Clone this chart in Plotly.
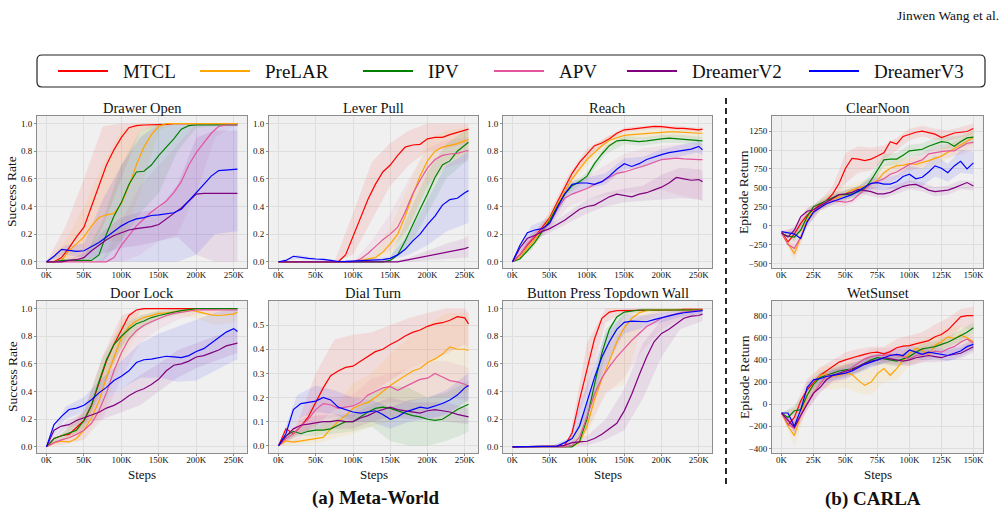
import plotly.graph_objects as go

# ---------------- data ----------------
SERIES = ["MTCL", "PreLAR", "IPV", "APV", "DreamerV2", "DreamerV3"]
COLORS = ["#ff0000", "#ffa500", "#008000", "#e3559d", "#800080", "#0000ff"]
BAND_RGB = ["255,0,0", "255,165,0", "0,128,0", "227,85,157", "128,0,128", "0,0,255"]

MW_STEPS = [0, 10, 20, 30, 40, 50, 60, 70, 80, 90, 100, 110, 120, 130, 140, 150,
            160, 170, 180, 190, 200, 210, 220, 230, 240, 250, 255]
MW_BAND_STEPS = [0, 25, 50, 75, 100, 125, 150, 175, 200, 225, 250, 255]
CARLA_STEPS = [0, 5, 10, 15, 20, 25, 30, 35, 40, 45, 50, 55, 60, 65, 70, 75, 80,
               85, 90, 95, 100, 105, 110, 115, 120, 125, 130, 135, 140, 145, 150]
CARLA_BAND_STEPS = [0, 10, 20, 30, 40, 50, 60, 70, 80, 90, 100, 110, 120, 130, 140, 150]

MW_XTICKS = [0, 50, 100, 150, 200, 250]
CARLA_XTICKS = [0, 25, 50, 75, 100, 125, 150]

DRAWER_OPEN = {
    "MTCL": [0, 0, 0.03, 0.10, 0.18, 0.25, 0.40, 0.55, 0.70, 0.81, 0.90, 0.97, 0.985, 0.99, 0.99, 0.995, 0.995, 1, 1, 1, 1, 1, 1, 1, 1, 1, 1],
    "PreLAR": [0, 0, 0.01, 0.08, 0.13, 0.18, 0.26, 0.32, 0.34, 0.35, 0.42, 0.55, 0.70, 0.83, 0.92, 0.98, 1, 1, 1, 1, 1, 1, 1, 1, 1, 1, 1],
    "IPV": [0, 0, 0.01, 0.01, 0.01, 0.01, 0.01, 0.05, 0.20, 0.33, 0.43, 0.56, 0.65, 0.655, 0.70, 0.77, 0.83, 0.89, 0.96, 0.985, 0.99, 0.99, 0.99, 0.99, 0.99, 0.99, 0.99],
    "APV": [0, 0, 0, 0, 0, 0, 0, 0, 0, 0.03, 0.12, 0.19, 0.26, 0.31, 0.36, 0.40, 0.44, 0.50, 0.58, 0.70, 0.79, 0.86, 0.93, 0.98, 0.99, 0.99, 0.99],
    "DreamerV2": [0, 0, 0, 0.01, 0.015, 0.03, 0.08, 0.12, 0.16, 0.19, 0.21, 0.23, 0.24, 0.245, 0.255, 0.27, 0.31, 0.35, 0.39, 0.44, 0.49, 0.495, 0.495, 0.495, 0.495, 0.495, 0.495],
    "DreamerV3": [0, 0.04, 0.09, 0.08, 0.075, 0.08, 0.11, 0.14, 0.18, 0.22, 0.26, 0.29, 0.31, 0.32, 0.335, 0.34, 0.345, 0.355, 0.38, 0.44, 0.50, 0.56, 0.62, 0.66, 0.665, 0.67, 0.67],
}
DRAWER_OPEN_LO = {
    "MTCL": [0, 0, 0.02, 0.25, 0.6, 0.95, 0.99, 1, 1, 1, 1, 1],
    "PreLAR": [0, 0, 0.05, 0.15, 0.15, 0.5, 0.95, 1, 1, 1, 1, 1],
    "IPV": [0, 0, 0, 0, 0.15, 0.35, 0.5, 0.8, 0.97, 0.98, 0.98, 0.98],
    "APV": [0, 0, 0, 0, 0, 0.05, 0.15, 0.2, 0.5, 0.9, 0.98, 0.98],
    "DreamerV2": [0, 0, 0, 0.06, 0.1, 0.12, 0.15, 0.18, 0.05, 0, 0, 0],
    "DreamerV3": [0, 0.05, 0.03, 0, 0, 0, 0, 0, 0.05, 0.2, 0.22, 0.22],
}
DRAWER_OPEN_HI = {
    "MTCL": [0, 0.25, 0.6, 0.98, 1, 1, 1, 1, 1, 1, 1, 1],
    "PreLAR": [0, 0.15, 0.4, 0.7, 0.95, 1, 1, 1, 1, 1, 1, 1],
    "IPV": [0, 0.02, 0.03, 0.3, 0.7, 0.95, 1, 1, 1, 1, 1, 1],
    "APV": [0, 0, 0, 0.02, 0.3, 0.55, 0.7, 0.85, 1, 1, 1, 1],
    "DreamerV2": [0, 0.01, 0.06, 0.22, 0.32, 0.36, 0.38, 0.56, 0.9, 0.95, 0.95, 0.95],
    "DreamerV3": [0, 0.12, 0.13, 0.45, 0.7, 0.9, 1, 1, 1, 1, 1, 1],
}

LEVER_PULL = {
    "MTCL": [0, 0, 0, 0, 0, 0, 0, 0, 0, 0.05, 0.18, 0.32, 0.45, 0.56, 0.65, 0.70, 0.77, 0.83, 0.845, 0.85, 0.89, 0.90, 0.90, 0.92, 0.935, 0.95, 0.96],
    "PreLAR": [0, 0, 0, 0, 0, 0, 0, 0, 0, 0, 0, 0.01, 0.02, 0.03, 0.07, 0.13, 0.20, 0.33, 0.48, 0.62, 0.73, 0.80, 0.83, 0.84, 0.855, 0.875, 0.885],
    "IPV": [0, 0, 0, 0, 0, 0, 0, 0, 0, 0, 0, 0, 0, 0, 0, 0.01, 0.05, 0.15, 0.27, 0.38, 0.49, 0.61, 0.70, 0.73, 0.80, 0.84, 0.865],
    "APV": [0, 0, 0, 0, 0, 0, 0, 0, 0, 0, 0, 0.02, 0.06, 0.11, 0.16, 0.20, 0.25, 0.36, 0.49, 0.59, 0.68, 0.74, 0.77, 0.78, 0.785, 0.80, 0.805],
    "DreamerV2": [0, 0, 0, 0, 0, 0, 0, 0, 0, 0, 0, 0, 0, 0, 0, 0, 0, 0.01, 0.02, 0.03, 0.04, 0.05, 0.06, 0.075, 0.085, 0.095, 0.105],
    "DreamerV3": [0, 0.01, 0.04, 0.03, 0.025, 0.02, 0.018, 0.01, 0.002, 0.003, 0.005, 0.008, 0.01, 0.012, 0.015, 0.025, 0.05, 0.09, 0.15, 0.20, 0.27, 0.33, 0.41, 0.45, 0.46, 0.50, 0.515],
}
LEVER_PULL_LO = {
    "MTCL": [0, 0, 0, 0, 0.05, 0.3, 0.55, 0.7, 0.8, 0.82, 0.85, 0.86],
    "PreLAR": [0, 0, 0, 0, 0, 0, 0.05, 0.25, 0.55, 0.72, 0.78, 0.8],
    "IPV": [0, 0, 0, 0, 0, 0, 0, 0.1, 0.35, 0.6, 0.72, 0.75],
    "APV": [0, 0, 0, 0, 0, 0.03, 0.08, 0.25, 0.55, 0.68, 0.72, 0.73],
    "DreamerV2": [0, 0, 0, 0, 0, 0, 0, 0, 0.01, 0.02, 0.03, 0.03],
    "DreamerV3": [0, 0.02, 0.01, 0, 0, 0, 0.01, 0.05, 0.12, 0.22, 0.27, 0.28],
}
LEVER_PULL_HI = {
    "MTCL": [0, 0, 0, 0, 0.35, 0.72, 0.86, 0.95, 1, 1, 1, 1],
    "PreLAR": [0, 0, 0, 0, 0, 0.05, 0.25, 0.55, 0.88, 0.95, 0.97, 0.98],
    "IPV": [0, 0, 0, 0, 0, 0, 0.03, 0.35, 0.65, 0.85, 0.95, 0.97],
    "APV": [0, 0, 0, 0, 0, 0.15, 0.35, 0.6, 0.82, 0.88, 0.9, 0.9],
    "DreamerV2": [0, 0, 0, 0, 0, 0, 0, 0.03, 0.08, 0.13, 0.17, 0.19],
    "DreamerV3": [0, 0.05, 0.03, 0.015, 0.01, 0.02, 0.04, 0.2, 0.45, 0.7, 0.78, 0.8],
}

REACH = {
    "MTCL": [0, 0.05, 0.12, 0.18, 0.25, 0.32, 0.43, 0.54, 0.64, 0.72, 0.78, 0.84, 0.86, 0.89, 0.93, 0.955, 0.96, 0.965, 0.975, 0.98, 0.978, 0.97, 0.965, 0.965, 0.96, 0.955, 0.96],
    "PreLAR": [0, 0.03, 0.10, 0.16, 0.23, 0.31, 0.41, 0.51, 0.60, 0.67, 0.74, 0.79, 0.84, 0.88, 0.90, 0.915, 0.92, 0.925, 0.93, 0.935, 0.94, 0.94, 0.94, 0.935, 0.935, 0.93, 0.93],
    "IPV": [0, 0.02, 0.08, 0.14, 0.22, 0.30, 0.40, 0.49, 0.55, 0.58, 0.62, 0.71, 0.78, 0.84, 0.875, 0.88, 0.875, 0.87, 0.875, 0.885, 0.89, 0.895, 0.89, 0.885, 0.88, 0.875, 0.875],
    "APV": [0, 0.05, 0.13, 0.19, 0.23, 0.28, 0.38, 0.46, 0.49, 0.51, 0.53, 0.56, 0.58, 0.61, 0.64, 0.65, 0.665, 0.68, 0.70, 0.72, 0.74, 0.745, 0.75, 0.745, 0.74, 0.74, 0.74],
    "DreamerV2": [0, 0.10, 0.17, 0.19, 0.22, 0.24, 0.27, 0.30, 0.34, 0.38, 0.40, 0.41, 0.44, 0.47, 0.49, 0.48, 0.47, 0.49, 0.50, 0.52, 0.54, 0.57, 0.61, 0.60, 0.59, 0.595, 0.58],
    "DreamerV3": [0, 0.12, 0.21, 0.23, 0.24, 0.28, 0.39, 0.49, 0.56, 0.57, 0.57, 0.56, 0.58, 0.62, 0.67, 0.71, 0.69, 0.71, 0.74, 0.76, 0.775, 0.79, 0.80, 0.81, 0.815, 0.835, 0.81],
}
REACH_LO = {
    "MTCL": [0, 0.12, 0.28, 0.55, 0.75, 0.85, 0.94, 0.955, 0.965, 0.95, 0.94, 0.945],
    "PreLAR": [0, 0.09, 0.27, 0.51, 0.7, 0.82, 0.88, 0.89, 0.9, 0.9, 0.89, 0.89],
    "IPV": [0, 0.08, 0.27, 0.49, 0.59, 0.78, 0.85, 0.84, 0.86, 0.86, 0.845, 0.845],
    "APV": [0, 0.12, 0.23, 0.4, 0.45, 0.48, 0.5, 0.5, 0.52, 0.48, 0.45, 0.44],
    "DreamerV2": [0, 0.15, 0.21, 0.28, 0.35, 0.4, 0.43, 0.44, 0.45, 0.46, 0.45, 0.44],
    "DreamerV3": [0, 0.18, 0.24, 0.48, 0.53, 0.56, 0.67, 0.68, 0.735, 0.765, 0.79, 0.77],
}
REACH_HI = {
    "MTCL": [0, 0.18, 0.36, 0.63, 0.82, 0.9, 0.97, 0.985, 0.99, 0.98, 0.97, 0.975],
    "PreLAR": [0, 0.17, 0.35, 0.59, 0.78, 0.9, 0.95, 0.96, 0.975, 0.97, 0.965, 0.965],
    "IPV": [0, 0.14, 0.33, 0.55, 0.65, 0.84, 0.91, 0.9, 0.92, 0.92, 0.905, 0.905],
    "APV": [0, 0.2, 0.33, 0.54, 0.62, 0.7, 0.78, 0.82, 0.84, 0.85, 0.85, 0.85],
    "DreamerV2": [0, 0.21, 0.27, 0.36, 0.45, 0.5, 0.53, 0.55, 0.63, 0.68, 0.67, 0.66],
    "DreamerV3": [0, 0.26, 0.32, 0.58, 0.61, 0.64, 0.75, 0.76, 0.815, 0.845, 0.875, 0.85],
}

DOOR_LOCK = {
    "MTCL": [0, 0.06, 0.08, 0.09, 0.14, 0.19, 0.30, 0.46, 0.62, 0.74, 0.84, 0.95, 0.99, 1, 1, 1, 1, 1, 1, 1, 1, 1, 1, 1, 1, 1, 1],
    "PreLAR": [0, 0.03, 0.04, 0.035, 0.06, 0.12, 0.21, 0.33, 0.50, 0.65, 0.79, 0.87, 0.91, 0.935, 0.95, 0.965, 0.97, 0.975, 0.98, 0.99, 0.98, 0.965, 0.955, 0.95, 0.955, 0.96, 0.975],
    "IPV": [0, 0.06, 0.08, 0.10, 0.12, 0.19, 0.30, 0.47, 0.63, 0.74, 0.80, 0.85, 0.89, 0.91, 0.935, 0.95, 0.965, 0.975, 0.985, 0.995, 1, 1, 1, 1, 1, 1, 1],
    "APV": [0, 0.03, 0.05, 0.065, 0.09, 0.12, 0.17, 0.26, 0.39, 0.55, 0.68, 0.78, 0.84, 0.88, 0.905, 0.93, 0.95, 0.965, 0.975, 0.985, 0.99, 0.992, 0.993, 0.99, 0.99, 0.99, 0.99],
    "DreamerV2": [0, 0.12, 0.15, 0.16, 0.19, 0.21, 0.23, 0.25, 0.28, 0.30, 0.33, 0.37, 0.40, 0.42, 0.45, 0.49, 0.55, 0.59, 0.60, 0.62, 0.65, 0.66, 0.68, 0.70, 0.73, 0.745, 0.75],
    "DreamerV3": [0, 0.16, 0.22, 0.27, 0.28, 0.30, 0.34, 0.39, 0.43, 0.48, 0.51, 0.55, 0.61, 0.63, 0.635, 0.645, 0.655, 0.65, 0.645, 0.66, 0.69, 0.71, 0.75, 0.79, 0.83, 0.855, 0.835],
}
DOOR_LOCK_LO = {
    "MTCL": [0, 0.05, 0.12, 0.42, 0.72, 0.98, 1, 1, 1, 1, 1, 1],
    "PreLAR": [0, 0.02, 0.05, 0.25, 0.62, 0.85, 0.93, 0.95, 0.93, 0.88, 0.9, 0.92],
    "IPV": [0, 0.06, 0.13, 0.45, 0.72, 0.85, 0.92, 0.96, 0.99, 1, 1, 1],
    "APV": [0, 0.02, 0.05, 0.2, 0.5, 0.75, 0.85, 0.92, 0.96, 0.96, 0.96, 0.96],
    "DreamerV2": [0, 0.13, 0.17, 0.2, 0.25, 0.3, 0.4, 0.5, 0.57, 0.62, 0.67, 0.68],
    "DreamerV3": [0, 0.2, 0.25, 0.33, 0.42, 0.5, 0.5, 0.47, 0.48, 0.55, 0.62, 0.63],
}
DOOR_LOCK_HI = {
    "MTCL": [0, 0.12, 0.26, 0.66, 0.95, 1, 1, 1, 1, 1, 1, 1],
    "PreLAR": [0, 0.06, 0.2, 0.58, 0.92, 0.98, 1, 1, 1, 1, 1, 1],
    "IPV": [0, 0.12, 0.25, 0.65, 0.88, 0.95, 0.98, 1, 1, 1, 1, 1],
    "APV": [0, 0.06, 0.2, 0.45, 0.82, 0.95, 0.99, 1, 1, 1, 1, 1],
    "DreamerV2": [0, 0.18, 0.25, 0.33, 0.42, 0.52, 0.6, 0.7, 0.75, 0.8, 0.84, 0.85],
    "DreamerV3": [0, 0.29, 0.36, 0.5, 0.62, 0.75, 0.82, 0.87, 0.92, 0.97, 1, 1],
}

DIAL_TURN = {
    "MTCL": [0, 0.07, 0.05, 0.08, 0.12, 0.18, 0.24, 0.29, 0.31, 0.325, 0.33, 0.35, 0.37, 0.39, 0.40, 0.42, 0.435, 0.455, 0.47, 0.48, 0.495, 0.505, 0.51, 0.52, 0.535, 0.53, 0.505],
    "PreLAR": [0, 0.02, 0.015, 0.02, 0.025, 0.03, 0.035, 0.07, 0.10, 0.125, 0.155, 0.17, 0.18, 0.20, 0.225, 0.25, 0.27, 0.29, 0.31, 0.32, 0.345, 0.36, 0.38, 0.41, 0.40, 0.40, 0.395],
    "IPV": [0, 0.04, 0.06, 0.05, 0.06, 0.065, 0.065, 0.07, 0.085, 0.10, 0.10, 0.12, 0.14, 0.155, 0.16, 0.155, 0.145, 0.135, 0.125, 0.12, 0.11, 0.105, 0.11, 0.13, 0.15, 0.165, 0.172],
    "APV": [0, 0.03, 0.05, 0.08, 0.11, 0.15, 0.175, 0.17, 0.155, 0.16, 0.165, 0.18, 0.21, 0.225, 0.24, 0.245, 0.23, 0.245, 0.26, 0.275, 0.28, 0.30, 0.285, 0.27, 0.265, 0.255, 0.245],
    "DreamerV2": [0, 0.04, 0.07, 0.085, 0.09, 0.095, 0.10, 0.10, 0.105, 0.10, 0.10, 0.115, 0.125, 0.14, 0.15, 0.16, 0.15, 0.145, 0.14, 0.135, 0.145, 0.15, 0.145, 0.14, 0.13, 0.125, 0.12],
    "DreamerV3": [0, 0.05, 0.15, 0.175, 0.18, 0.185, 0.20, 0.19, 0.16, 0.15, 0.14, 0.135, 0.14, 0.145, 0.13, 0.11, 0.12, 0.14, 0.15, 0.16, 0.155, 0.165, 0.175, 0.19, 0.21, 0.24, 0.25],
}
DIAL_TURN_LO = {
    "MTCL": [0, 0.04, 0.08, 0.15, 0.17, 0.22, 0.27, 0.32, 0.35, 0.38, 0.42, 0.4],
    "PreLAR": [0, 0.005, 0.01, 0.03, 0.05, 0.08, 0.1, 0.13, 0.15, 0.2, 0.22, 0.22],
    "IPV": [0, 0.04, 0.04, 0.05, 0.06, 0.08, 0.02, 0, 0, 0.02, 0.05, 0.06],
    "APV": [0, 0.02, 0.1, 0.12, 0.12, 0.17, 0.18, 0.18, 0.2, 0.2, 0.19, 0.18],
    "DreamerV2": [0, 0.05, 0.065, 0.07, 0.07, 0.1, 0.12, 0.11, 0.11, 0.1, 0.09, 0.09],
    "DreamerV3": [0, 0.11, 0.14, 0.13, 0.1, 0.1, 0.07, 0.1, 0.11, 0.13, 0.18, 0.19],
}
DIAL_TURN_HI = {
    "MTCL": [0, 0.09, 0.3, 0.44, 0.46, 0.47, 0.5, 0.53, 0.55, 0.57, 0.57, 0.55],
    "PreLAR": [0, 0.03, 0.06, 0.15, 0.26, 0.3, 0.38, 0.45, 0.5, 0.55, 0.55, 0.55],
    "IPV": [0, 0.07, 0.09, 0.11, 0.14, 0.22, 0.25, 0.24, 0.2, 0.22, 0.26, 0.27],
    "APV": [0, 0.06, 0.2, 0.2, 0.21, 0.28, 0.3, 0.32, 0.35, 0.35, 0.33, 0.32],
    "DreamerV2": [0, 0.11, 0.125, 0.13, 0.13, 0.17, 0.2, 0.18, 0.18, 0.18, 0.16, 0.15],
    "DreamerV3": [0, 0.21, 0.25, 0.23, 0.2, 0.19, 0.16, 0.19, 0.2, 0.23, 0.29, 0.3],
}

BUTTON_PRESS = {
    "MTCL": [0, 0, 0, 0, 0, 0, 0.005, 0.01, 0.10, 0.34, 0.57, 0.78, 0.93, 0.975, 0.985, 0.985, 0.99, 0.99, 0.99, 0.99, 0.99, 0.99, 0.99, 0.995, 0.995, 0.995, 0.995],
    "PreLAR": [0, 0, 0, 0, 0, 0, 0, 0, 0.005, 0.03, 0.15, 0.34, 0.49, 0.62, 0.76, 0.86, 0.93, 0.97, 0.985, 0.99, 0.99, 0.99, 0.99, 0.99, 0.99, 0.99, 0.99],
    "IPV": [0, 0, 0, 0, 0, 0, 0, 0, 0, 0.04, 0.20, 0.45, 0.68, 0.85, 0.94, 0.975, 0.985, 0.99, 0.99, 0.99, 0.99, 0.99, 0.99, 0.99, 0.99, 0.99, 0.99],
    "APV": [0, 0, 0, 0, 0, 0, 0, 0, 0.01, 0.07, 0.22, 0.38, 0.50, 0.58, 0.65, 0.71, 0.77, 0.82, 0.87, 0.90, 0.93, 0.95, 0.965, 0.975, 0.98, 0.985, 0.99],
    "DreamerV2": [0, 0, 0, 0, 0, 0, 0.005, 0.01, 0.03, 0.035, 0.04, 0.06, 0.09, 0.13, 0.17, 0.26, 0.38, 0.52, 0.65, 0.76, 0.82, 0.85, 0.89, 0.93, 0.945, 0.95, 0.96],
    "DreamerV3": [0, 0, 0, 0, 0, 0, 0.005, 0.03, 0.06, 0.15, 0.33, 0.50, 0.65, 0.76, 0.85, 0.90, 0.91, 0.905, 0.905, 0.92, 0.935, 0.95, 0.96, 0.97, 0.975, 0.98, 0.985],
}
BUTTON_PRESS_LO = {
    "MTCL": [0, 0, 0, 0, 0.4, 0.9, 0.97, 0.98, 0.98, 0.98, 0.985, 0.985],
    "PreLAR": [0, 0, 0, 0, 0.08, 0.4, 0.45, 0.9, 0.97, 0.98, 0.98, 0.98],
    "IPV": [0, 0, 0, 0, 0.12, 0.68, 0.95, 0.98, 0.98, 0.98, 0.98, 0.98],
    "APV": [0, 0, 0, 0, 0.12, 0.38, 0.5, 0.7, 0.85, 0.92, 0.95, 0.96],
    "DreamerV2": [0, 0, 0, 0, 0.01, 0.05, 0.12, 0.35, 0.65, 0.85, 0.9, 0.91],
    "DreamerV3": [0, 0, 0, 0.02, 0.22, 0.58, 0.82, 0.86, 0.9, 0.94, 0.96, 0.965],
}
BUTTON_PRESS_HI = {
    "MTCL": [0, 0, 0, 0.01, 0.75, 1, 1, 1, 1, 1, 1, 1],
    "PreLAR": [0, 0, 0, 0, 0.25, 0.72, 0.98, 1, 1, 1, 1, 1],
    "IPV": [0, 0, 0, 0, 0.3, 0.85, 0.99, 1, 1, 1, 1, 1],
    "APV": [0, 0, 0, 0.01, 0.32, 0.7, 0.88, 0.95, 0.99, 1, 1, 1],
    "DreamerV2": [0, 0, 0.01, 0.04, 0.08, 0.2, 0.42, 0.75, 0.92, 0.98, 0.99, 0.99],
    "DreamerV3": [0, 0, 0, 0.06, 0.45, 0.82, 0.96, 0.95, 0.97, 0.99, 0.995, 1],
}

CLEAR_NOON = {
    "MTCL": [-80, -215, -110, 30, 140, 215, 280, 330, 420, 560, 760, 890, 880, 860, 880, 920, 965, 1110, 1080, 1180, 1210, 1235, 1250, 1230, 1210, 1165, 1190, 1225, 1235, 1245, 1285],
    "PreLAR": [-100, -240, -370, -150, 80, 200, 250, 300, 350, 380, 430, 470, 500, 520, 550, 600, 700, 760, 790, 800, 820, 810, 830, 860, 890, 920, 970, 1020, 1060, 1110, 1165],
    "IPV": [-100, -140, -150, -60, 120, 250, 290, 330, 380, 410, 410, 420, 450, 490, 600, 740, 870, 880, 880, 930, 990, 1000, 1010, 1050, 1080, 1110, 1100, 1050, 1110, 1160, 1170],
    "APV": [-100, -250, -300, -150, 50, 180, 260, 320, 330, 320, 310, 330, 410, 480, 550, 580, 620, 680, 710, 760, 810, 840, 870, 950, 970, 980, 990, 990, 1040, 1090, 1100],
    "DreamerV2": [-100, -150, -60, 120, 190, 210, 260, 310, 360, 410, 420, 440, 480, 470, 450, 420, 420, 440, 480, 520, 540, 545, 510, 470, 450, 455, 470, 500, 540, 570, 525],
    "DreamerV3": [-80, -100, -110, -170, 50, 180, 240, 290, 320, 350, 380, 410, 460, 510, 560, 570, 550, 550, 580, 650, 680, 620, 640, 710, 790, 760, 700, 790, 850, 750, 830],
}
CLEAR_NOON_LO = {
    "MTCL": [-100, -200, 60, 220, 320, 560, 700, 730, 870, 1000, 1130, 1180, 1140, 1120, 1170, 1210],
    "PreLAR": [-100, -480, 0, 180, 270, 340, 420, 470, 600, 700, 740, 750, 800, 880, 960, 1060],
    "IPV": [-100, -220, 50, 230, 320, 350, 380, 520, 790, 800, 910, 930, 1000, 1020, 1030, 1090],
    "APV": [-100, -420, -20, 200, 270, 250, 340, 470, 530, 620, 720, 780, 880, 900, 940, 1000],
    "DreamerV2": [-100, -110, 140, 210, 310, 370, 430, 390, 360, 420, 480, 450, 390, 410, 480, 465],
    "DreamerV3": [-80, -150, 0, 200, 280, 330, 400, 480, 470, 490, 570, 520, 650, 580, 700, 680],
}
CLEAR_NOON_HI = {
    "MTCL": [-60, -30, 220, 340, 520, 960, 1050, 1030, 1060, 1160, 1280, 1320, 1280, 1260, 1300, 1350],
    "PreLAR": [-100, -260, 160, 320, 430, 520, 580, 630, 800, 880, 900, 910, 980, 1060, 1160, 1270],
    "IPV": [-100, -80, 190, 350, 440, 470, 520, 680, 950, 960, 1070, 1090, 1160, 1180, 1190, 1250],
    "APV": [-100, -200, 120, 320, 390, 370, 480, 630, 710, 800, 900, 960, 1060, 1080, 1140, 1200],
    "DreamerV2": [-100, -10, 240, 310, 410, 470, 530, 510, 480, 540, 600, 570, 510, 530, 600, 585],
    "DreamerV3": [-80, -70, 100, 280, 360, 430, 520, 640, 630, 670, 790, 760, 930, 820, 1000, 980],
}

WET_SUNSET = {
    "MTCL": [-80, -190, -120, 30, 130, 200, 260, 300, 340, 380, 400, 420, 435, 450, 465, 470, 455, 475, 510, 525, 530, 545, 560, 575, 610, 630, 670, 730, 790, 800, 800],
    "PreLAR": [-80, -200, -285, -100, 80, 180, 260, 276, 250, 260, 280, 270, 215, 170, 200, 276, 321, 261, 321, 397, 458, 503, 488, 442, 533, 564, 609, 594, 624, 600, 564],
    "IPV": [-80, -120, -60, -50, 80, 180, 240, 260, 280, 300, 310, 320, 340, 370, 400, 420, 410, 400, 390, 410, 430, 470, 500, 510, 520, 540, 560, 590, 620, 650, 690],
    "APV": [-80, -180, -220, -110, 10, 100, 180, 260, 260, 270, 290, 330, 370, 410, 430, 440, 440, 450, 440, 430, 410, 440, 450, 460, 480, 470, 500, 520, 560, 590, 550],
    "DreamerV2": [-80, -150, -210, -100, 0, 100, 150, 220, 260, 280, 300, 310, 340, 370, 390, 400, 420, 410, 400, 390, 400, 420, 430, 440, 430, 420, 440, 450, 460, 490, 520],
    "DreamerV3": [-80, -80, -200, -50, 150, 220, 230, 250, 260, 270, 280, 300, 330, 360, 380, 400, 420, 440, 450, 440, 490, 470, 450, 470, 460, 450, 440, 460, 480, 520, 540],
}
WET_SUNSET_LO = {
    "MTCL": [-80, -220, 30, 180, 270, 330, 370, 400, 390, 420, 440, 460, 500, 560, 700, 660],
    "PreLAR": [-80, -380, -20, 150, 130, 150, 100, 80, 200, 220, 350, 400, 450, 520, 540, 480],
    "IPV": [-80, -110, 30, 190, 230, 260, 290, 350, 360, 340, 380, 450, 470, 510, 570, 640],
    "APV": [-80, -300, -60, 110, 190, 220, 300, 360, 370, 370, 340, 380, 410, 430, 490, 480],
    "DreamerV2": [-80, -260, -50, 100, 210, 250, 290, 340, 370, 350, 350, 380, 380, 390, 410, 470],
    "DreamerV3": [-80, -250, 100, 180, 210, 230, 280, 330, 370, 400, 440, 400, 410, 390, 430, 490],
}
WET_SUNSET_HI = {
    "MTCL": [-80, -30, 230, 330, 400, 470, 500, 520, 520, 590, 620, 650, 720, 780, 860, 880],
    "PreLAR": [-80, -200, 180, 340, 350, 380, 330, 320, 430, 420, 550, 580, 620, 690, 710, 650],
    "IPV": [-80, -10, 130, 290, 330, 360, 390, 450, 460, 440, 480, 550, 570, 610, 670, 740],
    "APV": [-80, -140, 80, 250, 330, 360, 440, 500, 510, 510, 480, 520, 550, 570, 630, 620],
    "DreamerV2": [-80, -160, 50, 200, 310, 350, 390, 440, 470, 450, 450, 480, 480, 490, 510, 570],
    "DreamerV3": [-80, -150, 200, 280, 310, 330, 380, 430, 470, 500, 540, 500, 510, 490, 530, 590],
}

# ---------------- layout helpers ----------------
W, H = 1008, 518
FONT = "Liberation Serif"
COLS = [(37, 247), (269, 478), (503, 712), (772, 983)]
ROWS = [(116, 268), (301, 453)]

PANELS = [
    # title, data, lo, hi, row, col, carla, yrange, ytickvals
    ("Drawer Open", DRAWER_OPEN, DRAWER_OPEN_LO, DRAWER_OPEN_HI, 0, 0, False, [-0.045, 1.055], [0, 0.2, 0.4, 0.6, 0.8, 1.0]),
    ("Lever Pull", LEVER_PULL, LEVER_PULL_LO, LEVER_PULL_HI, 0, 1, False, [-0.045, 1.055], [0, 0.2, 0.4, 0.6, 0.8, 1.0]),
    ("Reach", REACH, REACH_LO, REACH_HI, 0, 2, False, [-0.045, 1.055], [0, 0.2, 0.4, 0.6, 0.8, 1.0]),
    ("ClearNoon", CLEAR_NOON, CLEAR_NOON_LO, CLEAR_NOON_HI, 0, 3, True, [-560, 1450], [-500, -250, 0, 250, 500, 750, 1000, 1250]),
    ("Door Lock", DOOR_LOCK, DOOR_LOCK_LO, DOOR_LOCK_HI, 1, 0, False, [-0.045, 1.055], [0, 0.2, 0.4, 0.6, 0.8, 1.0]),
    ("Dial Turn", DIAL_TURN, DIAL_TURN_LO, DIAL_TURN_HI, 1, 1, False, [-0.03, 0.6], [0, 0.1, 0.2, 0.3, 0.4, 0.5]),
    ("Button Press Topdown Wall", BUTTON_PRESS, BUTTON_PRESS_LO, BUTTON_PRESS_HI, 1, 2, False, [-0.045, 1.055], [0, 0.2, 0.4, 0.6, 0.8, 1.0]),
    ("WetSunset", WET_SUNSET, WET_SUNSET_LO, WET_SUNSET_HI, 1, 3, True, [-442, 933], [-400, -200, 0, 200, 400, 600, 800]),
]


def px(x):
    return x / W


def py(y):
    return 1 - y / H


fig = go.Figure()
annotations = []
shapes = []
layout_axes = {}

for i, (title, data, lo, hi, r, c, carla, yr, ytv) in enumerate(PANELS):
    n = i + 1
    xa = "x" if n == 1 else f"x{n}"
    ya = "y" if n == 1 else f"y{n}"
    steps = CARLA_STEPS if carla else MW_STEPS
    bsteps = CARLA_BAND_STEPS if carla else MW_BAND_STEPS
    # bands
    for k, s in enumerate(SERIES):
        fig.add_trace(go.Scatter(
            x=list(bsteps) + list(bsteps)[::-1],
            y=list(hi[s]) + list(lo[s])[::-1],
            fill="toself", fillcolor=f"rgba({BAND_RGB[k]},0.09)",
            line=dict(width=0), hoverinfo="skip", showlegend=False,
            xaxis=xa, yaxis=ya, mode="lines"))
    # lines
    for k, s in enumerate(SERIES):
        fig.add_trace(go.Scatter(
            x=steps, y=data[s], mode="lines", name=s,
            line=dict(color=COLORS[k], width=1.2), showlegend=False,
            xaxis=xa, yaxis=ya))

    x0, x1 = COLS[c]
    y0, y1 = ROWS[r]
    xr = [-7.5, 157.5] if carla else [-12.75, 267.75]
    xtv = CARLA_XTICKS if carla else MW_XTICKS
    common = dict(showline=True, mirror=True, linecolor="#8c8c8c", linewidth=1,
                  showgrid=True, gridcolor="#dedede", gridwidth=1, zeroline=False,
                  ticks="outside", ticklen=2, tickcolor="#8c8c8c",
                  tickfont=dict(family=FONT, size=9, color="#111"))
    layout_axes["xaxis" if n == 1 else f"xaxis{n}"] = dict(
        common, domain=[px(x0), px(x1)], anchor=ya, range=xr,
        tickvals=xtv, ticktext=[f"{v}K" for v in xtv], ticklabelstandoff=-4)
    if carla:
        yt = [("\u2212" + str(-v)) if v < 0 else str(v) for v in ytv]
    else:
        yt = [f"{v:.1f}" for v in ytv]
    layout_axes["yaxis" if n == 1 else f"yaxis{n}"] = dict(
        common, domain=[py(y1), py(y0)], anchor=xa, range=yr,
        tickvals=ytv, ticktext=yt)

    # panel title
    annotations.append(dict(text=title, x=px((x0 + x1) / 2), y=py(y0 - 8),
                            xref="paper", yref="paper", showarrow=False,
                            font=dict(family=FONT, size=14.5, color="#111"),
                            xanchor="center", yanchor="middle"))
    if r == 1:
        annotations.append(dict(text="Steps", x=px((x0 + x1) / 2), y=py(474),
                                xref="paper", yref="paper", showarrow=False,
                                font=dict(family=FONT, size=13, color="#111"),
                                xanchor="center", yanchor="middle"))
    if c == 0 or c == 3:
        lab = "Episode Return" if carla else "Success Rate"
        xpos = 744 if carla else 12
        annotations.append(dict(text=lab, x=px(xpos), y=py((y0 + y1) / 2),
                                xref="paper", yref="paper", showarrow=False,
                                textangle=-90,
                                font=dict(family=FONT, size=13.5, color="#111"),
                                xanchor="center", yanchor="middle"))

# legend (drawn manually in a rounded frame)
LEG_LINE_X = [58, 200, 363, 494, 627, 809]
LEG_Y = 71
for k, s in enumerate(SERIES):
    lx = LEG_LINE_X[k]
    shapes.append(dict(type="line", xref="paper", yref="paper",
                       x0=px(lx), x1=px(lx + 50), y0=py(LEG_Y), y1=py(LEG_Y),
                       line=dict(color=COLORS[k], width=2)))
    annotations.append(dict(text=s, x=px(lx + 63), y=py(LEG_Y), xref="paper", yref="paper",
                            showarrow=False, xanchor="left", yanchor="middle",
                            font=dict(family=FONT, size=19, color="#111")))
bx0, bx1, by0, by1, rr = 37, 985, 55, 87, 5
path = (f"M {px(bx0 + rr)},{py(by0)} L {px(bx1 - rr)},{py(by0)} "
        f"Q {px(bx1)},{py(by0)} {px(bx1)},{py(by0 + rr)} L {px(bx1)},{py(by1 - rr)} "
        f"Q {px(bx1)},{py(by1)} {px(bx1 - rr)},{py(by1)} L {px(bx0 + rr)},{py(by1)} "
        f"Q {px(bx0)},{py(by1)} {px(bx0)},{py(by1 - rr)} L {px(bx0)},{py(by0 + rr)} "
        f"Q {px(bx0)},{py(by0)} {px(bx0 + rr)},{py(by0)} Z")
shapes.append(dict(type="path", path=path, xref="paper", yref="paper",
                   line=dict(color="#222", width=1.2), fillcolor="rgba(0,0,0,0)"))

# dashed separator
shapes.append(dict(type="line", xref="paper", yref="paper",
                   x0=px(726), x1=px(726), y0=py(98), y1=py(484),
                   line=dict(color="#111", width=1.8, dash="6px,4px")))

annotations.append(dict(text="(a) Meta-World", x=px(376), y=py(498), xref="paper", yref="paper",
                        showarrow=False, xanchor="center", yanchor="middle",
                        font=dict(family=FONT, size=19, color="#111", weight="bold")))
annotations.append(dict(text="(b) CARLA", x=px(873), y=py(499), xref="paper", yref="paper",
                        showarrow=False, xanchor="center", yanchor="middle",
                        font=dict(family=FONT, size=19, color="#111", weight="bold")))
annotations.append(dict(text="Jinwen Wang et al.", x=px(1001), y=py(15), xref="paper", yref="paper",
                        showarrow=False, xanchor="right", yanchor="middle",
                        font=dict(family=FONT, size=13.5, color="#111")))

fig.update_layout(
    width=W, height=H, margin=dict(l=0, r=0, t=0, b=0),
    paper_bgcolor="white", plot_bgcolor="#f0f0f0",
    showlegend=False, annotations=annotations, shapes=shapes,
    **layout_axes)

fig.write_html("out.html", config={"displayModeBar": False})
